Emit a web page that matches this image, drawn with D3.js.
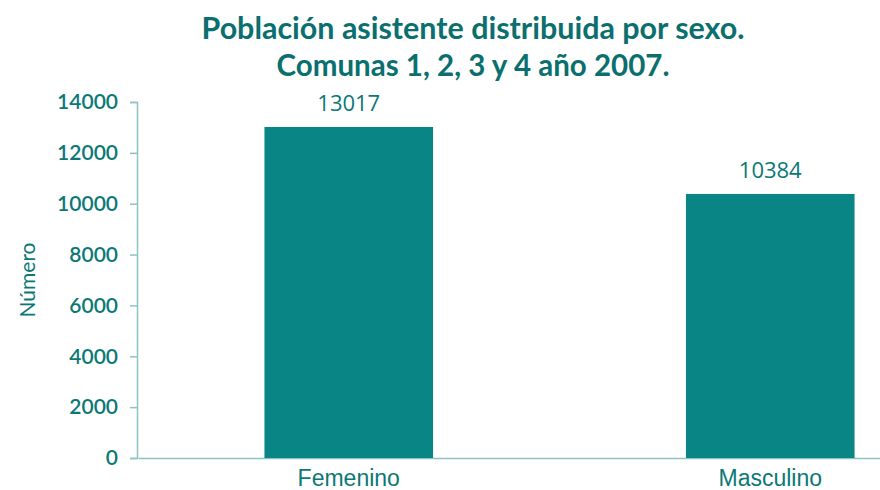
<!DOCTYPE html>
<html><head><meta charset="utf-8">
<script src="https://cdn.jsdelivr.net/npm/d3@7"></script>
<style>body{margin:0;background:#fff}</style>
</head><body>
<script>
const categories = ["Femenino", "Masculino"];
const values = [13017, 10384];
const yTicks = [0, 2000, 4000, 6000, 8000, 10000, 12000, 14000];
const titleLines = ["Población asistente distribuida por sexo.", "Comunas 1, 2, 3 y 4 año 2007."];

const W = 880, H = 490;
const svg = d3.select("body").append("svg").attr("width", W).attr("height", H);
const teal = "#0b7877", barColor = "#0a8585", axisColor = "#8cc3c3";

const x = d3.scaleBand().domain(categories).range([138, 981]).paddingInner(0.6).paddingOuter(0.3);
const y = d3.scaleLinear().domain([0, 14000]).range([458, 102]);

svg.selectAll("text.title").data(titleLines).enter().append("text")
  .attr("x", 473).attr("y", (d, i) => 39 + i * 37)
  .attr("text-anchor", "middle").attr("font-family", "Lato, sans-serif")
  .attr("font-weight", "bold").attr("font-size", 31).attr("fill", "#0a6f6e")
  .attr("textLength", (d, i) => i === 0 ? 543 : 393).attr("lengthAdjust", "spacingAndGlyphs")
  .text(d => d);

const yAxis = svg.append("g").attr("transform", "translate(137,0)")
  .call(d3.axisLeft(y).tickValues(yTicks).tickSize(7).tickPadding(12).tickFormat(d3.format("d")));
yAxis.select(".domain").attr("stroke", axisColor).attr("stroke-width", 1.5);
yAxis.selectAll(".tick line").attr("stroke", axisColor).attr("stroke-width", 1.5);
yAxis.selectAll(".tick text").attr("fill", teal).attr("font-family", "Lato, sans-serif").attr("font-size", 21).attr("font-weight", 600);

const xAxis = svg.append("g").attr("transform", "translate(0,458)")
  .call(d3.axisBottom(x).tickSize(0).tickPadding(12));
xAxis.select(".domain").attr("stroke", axisColor).attr("stroke-width", 1.5);
xAxis.selectAll(".tick text").attr("fill", teal).attr("font-family", "'Liberation Sans', Arial, sans-serif").attr("font-size", 23);

svg.selectAll("rect.bar").data(values).enter().append("rect")
  .attr("x", (d, i) => x(categories[i])).attr("width", x.bandwidth())
  .attr("y", d => y(d)).attr("height", d => y(0) - y(d)).attr("fill", barColor);

svg.selectAll("text.val").data(values).enter().append("text")
  .attr("x", (d, i) => x(categories[i]) + x.bandwidth() / 2)
  .attr("y", d => y(d) - 16).attr("text-anchor", "middle")
  .attr("font-family", "'Open Sans', sans-serif").attr("font-size", 22).attr("fill", teal).text(d => d);

svg.append("text").attr("transform", "translate(35,280) rotate(-90)")
  .attr("text-anchor", "middle").attr("font-family", "Lato, sans-serif").attr("font-size", 21)
  .attr("fill", teal).text("Número");
</script>
</body></html>
